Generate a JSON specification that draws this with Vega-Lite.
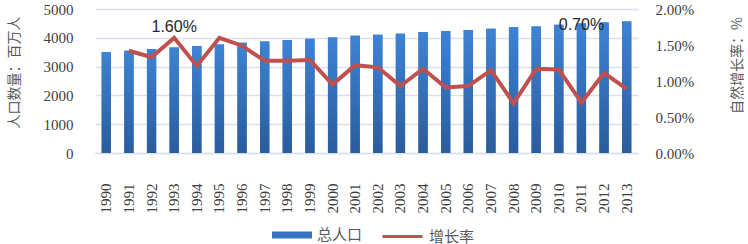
{
  "$schema": "https://vega.github.io/schema/vega-lite/v6.json",
  "width": 543,
  "height": 144,
  "autosize": {"type": "none"},
  "padding": {"left": 95, "top": 9, "right": 110, "bottom": 91},
  "background": "white",
  "config": {"view": {"stroke": null}, "font": "Liberation Serif", "axis": {"labelFont": "Liberation Serif"}},
  "data": {"values": [
    {"year": "1990", "pop": 3507, "rate": null, "label": null},
    {"year": "1991", "pop": 3552, "rate": 0.0142, "label": null},
    {"year": "1992", "pop": 3611, "rate": 0.0133, "label": null},
    {"year": "1993", "pop": 3667, "rate": 0.0160, "label": "1.60%"},
    {"year": "1994", "pop": 3715, "rate": 0.0121, "label": null},
    {"year": "1995", "pop": 3771, "rate": 0.0160, "label": null},
    {"year": "1996", "pop": 3830, "rate": 0.0149, "label": null},
    {"year": "1997", "pop": 3875, "rate": 0.0128, "label": null},
    {"year": "1998", "pop": 3924, "rate": 0.0128, "label": null},
    {"year": "1999", "pop": 3969, "rate": 0.0129, "label": null},
    {"year": "2000", "pop": 4014, "rate": 0.0095, "label": null},
    {"year": "2001", "pop": 4073, "rate": 0.0122, "label": null},
    {"year": "2002", "pop": 4108, "rate": 0.0119, "label": null},
    {"year": "2003", "pop": 4142, "rate": 0.0093, "label": null},
    {"year": "2004", "pop": 4201, "rate": 0.0117, "label": null},
    {"year": "2005", "pop": 4236, "rate": 0.0091, "label": null},
    {"year": "2006", "pop": 4271, "rate": 0.0093, "label": null},
    {"year": "2007", "pop": 4316, "rate": 0.0115, "label": null},
    {"year": "2008", "pop": 4362, "rate": 0.0069, "label": null},
    {"year": "2009", "pop": 4396, "rate": 0.0117, "label": null},
    {"year": "2010", "pop": 4455, "rate": 0.0116, "label": null},
    {"year": "2011", "pop": 4500, "rate": 0.0070, "label": "0.70%"},
    {"year": "2012", "pop": 4535, "rate": 0.0111, "label": null},
    {"year": "2013", "pop": 4570, "rate": 0.0089, "label": null}
  ]},
  "encoding": {
    "x": {
      "field": "year", "type": "ordinal",
      "scale": {"paddingInner": 0.59, "paddingOuter": 0.295},
      "axis": {
        "title": null, "labelAngle": -90, "labelFont": "Liberation Serif",
        "labelFontSize": 15, "labelColor": "#404040", "labelPadding": 30,
        "ticks": false, "domainColor": "#d9e1f0", "domainWidth": 1.5
      }
    }
  },
  "layer": [
    {
      "encoding": {
        "y": {
          "field": "pop", "type": "quantitative",
          "scale": {"domain": [0, 5000]},
          "axis": {
            "values": [0, 1000, 2000, 3000, 4000, 5000], "format": "d",
            "title": "人口数量：百万人", "titleFont": "Noto Sans CJK SC",
            "titleFontSize": 14, "titleFontWeight": "normal", "titleColor": "#595959",
            "titlePadding": 22, "titleY": 63,
            "labelFont": "Liberation Serif", "labelFontSize": 15, "labelColor": "#404040",
            "labelPadding": 22, "domain": false, "ticks": false,
            "grid": true, "gridColor": "#d9e1f0", "gridWidth": 1.5
          }
        }
      },
      "layer": [
        {
          "mark": {"type": "bar", "strokeWidth": 0},
          "encoding": {
            "fill": {
              "datum": "总人口", "type": "nominal",
              "scale": {"domain": ["总人口"], "range": ["#3472c2"]},
              "legend": {
                "orient": "none", "legendX": 177, "legendY": 206, "direction": "horizontal",
                "title": null, "labelFont": "Noto Sans CJK SC", "labelFontSize": 15,
                "labelColor": "#595959", "symbolSize": 1600, "labelOffset": 5,
                "symbolType": "M-1,-0.18H1V0.18H-1Z", "symbolStrokeWidth": 0,
                "symbolFillColor": "#3472c2", "symbolOpacity": 1
              }
            }
          }
        },
        {
          "mark": {
            "type": "bar", "strokeWidth": 0,
            "fill": {"gradient": "linear", "x1": 0, "y1": 0, "x2": 0, "y2": 1,
              "stops": [{"offset": 0, "color": "#3d83d5"}, {"offset": 1, "color": "#2a5c9d"}]}
          }
        }
      ]
    },
    {
      "encoding": {
        "y": {
          "field": "rate", "type": "quantitative",
          "scale": {"domain": [0, 0.02]},
          "axis": {
            "orient": "right", "values": [0, 0.005, 0.01, 0.015, 0.02], "format": ".2%",
            "title": "自然增长率：%", "titleFont": "Noto Sans CJK SC", "titleFontSize": 14,
            "titleFontWeight": "normal", "titleColor": "#595959", "titleAngle": 270,
            "titleBaseline": "top", "titlePadding": 37, "titleY": 56,
            "labelFont": "Liberation Serif", "labelFontSize": 15, "labelColor": "#404040",
            "labelPadding": 17, "domain": false, "ticks": false, "grid": false
          }
        }
      },
      "layer": [
        {
          "mark": {"type": "line", "strokeWidth": 4, "strokeJoin": "miter"},
          "encoding": {
            "stroke": {
              "datum": "增长率", "type": "nominal",
              "scale": {"domain": ["增长率"], "range": ["#c0504d"]},
              "legend": {
                "orient": "none", "legendX": 286, "legendY": 206, "direction": "horizontal",
                "title": null, "labelFont": "Noto Sans CJK SC", "labelFontSize": 15,
                "labelColor": "#595959", "symbolSize": 1600, "labelOffset": 5,
                "symbolType": "stroke", "symbolStrokeWidth": 3
              }
            }
          }
        },
        {
          "transform": [{"filter": "datum.year === '1993'"}],
          "mark": {"type": "text", "font": "Liberation Sans", "fontSize": 16, "color": "#262626", "dy": -11, "baseline": "middle"},
          "encoding": {"text": {"field": "label"}}
        },
        {
          "transform": [{"filter": "datum.year === '2011'"}],
          "mark": {"type": "text", "font": "Liberation Sans", "fontSize": 16, "color": "#262626", "dy": -78, "baseline": "middle"},
          "encoding": {"text": {"field": "label"}}
        }
      ]
    }
  ],
  "resolve": {"scale": {"y": "independent"}}
}
